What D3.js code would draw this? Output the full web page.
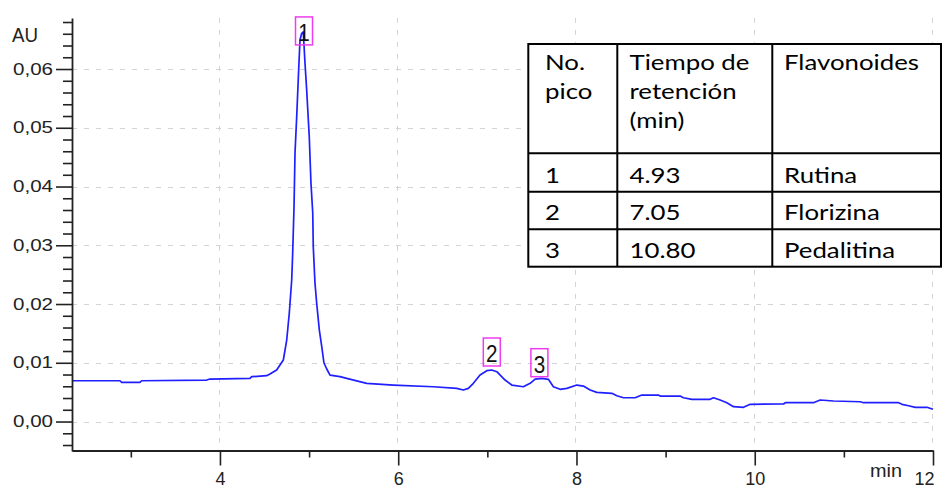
<!DOCTYPE html>
<html><head><meta charset="utf-8">
<script src="https://cdn.jsdelivr.net/npm/d3@7"></script>
<style>body{margin:0;background:#fff}svg{display:block}</style>
</head><body>
<svg id="chart" width="942" height="489"></svg>
<script>
// ---- data ----
const times = [2.339,2.878,2.897,3.102,3.121,3.851,3.888,4.337,4.356,4.524,4.561,4.636,4.711,4.749,4.778,4.805,4.816,4.831,4.842,4.861,4.883,4.898,4.917,4.935,4.954,4.973,5.002,5.021,5.041,5.047,5.066,5.085,5.115,5.142,5.167,5.198,5.235,5.347,5.422,5.647,5.945,6.394,6.657,6.731,6.787,6.843,6.918,6.994,7.050,7.106,7.199,7.274,7.404,7.480,7.536,7.611,7.685,7.741,7.816,7.892,8.004,8.078,8.153,8.228,8.397,8.453,8.527,8.658,8.733,8.920,8.939,9.163,9.200,9.295,9.500,9.537,9.612,9.687,9.762,9.874,9.949,10.323,10.342,10.659,10.734,10.884,11.184,11.221,11.614,11.652,11.726,11.801,11.932,12.0];
const absorbance = [0.00694,0.00694,0.00667,0.00667,0.00694,0.00706,0.00723,0.00735,0.00763,0.00780,0.00809,0.00877,0.01047,0.01387,0.01847,0.02409,0.02868,0.03656,0.04570,0.05188,0.05983,0.06494,0.06608,0.0663,0.06102,0.05643,0.04848,0.04060,0.03549,0.02975,0.02357,0.02017,0.01557,0.01273,0.00996,0.00894,0.00791,0.00763,0.00735,0.00650,0.00621,0.00592,0.00565,0.00536,0.00565,0.00650,0.00791,0.00865,0.00877,0.00848,0.00706,0.00621,0.00592,0.00650,0.00723,0.00735,0.00718,0.00592,0.00548,0.00565,0.00621,0.00604,0.00536,0.00497,0.00480,0.00439,0.00405,0.00405,0.00451,0.00451,0.00434,0.00434,0.00405,0.00378,0.00378,0.00405,0.00366,0.00320,0.00252,0.00242,0.00293,0.00298,0.00320,0.00320,0.00366,0.00349,0.00337,0.00320,0.00320,0.00293,0.00269,0.00242,0.00242,0.00208];

const xTickValues = [4, 6, 8, 10, 12];
const xTickLabels = ["4", "6", "8", "10", "12"];
const xMinorTicks = [3, 5, 7, 9, 11];
const yTickValues = [0, 0.01, 0.02, 0.03, 0.04, 0.05, 0.06];
const yTickLabels = ["0,00", "0,01", "0,02", "0,03", "0,04", "0,05", "0,06"];
const yAxisTitle = "AU";
const xAxisTitle = "min";

const peakNumbers = ["1", "2", "3"];
const peakLabelTimes = [4.943, 7.05, 7.584];
const peakLabelValues = [0.0641, 0.00945, 0.00763];

const tableHeader = [["No.", "pico"], ["Tiempo de", "retención", "(min)"], ["Flavonoides"]];
const tableRows = [["1", "4.93", "Rutina"], ["2", "7.05", "Florizina"], ["3", "10.80", "Pedalitina"]];

// ---- layout ----
const svg = d3.select("#chart");
const axisFont = "'Liberation Sans', Arial, sans-serif";
const x = d3.scaleLinear().domain([2.34, 12]).range([72, 933]);
const y = d3.scaleLinear().domain([-0.005, 0.0687]).range([450.9, 17.9]);
const axisY = 450.5;

// gridlines
const grid = svg.append("g").attr("stroke", "#d4d4d4").attr("stroke-width", 1).attr("stroke-dasharray", "5,7");
grid.selectAll("line.h").data(yTickValues).join("line").attr("class", "h")
  .attr("x1", x.range()[0]).attr("x2", x.range()[1])
  .attr("y1", d => Math.round(y(d)) + 0.5).attr("y2", d => Math.round(y(d)) + 0.5);
grid.selectAll("line.v").data(xTickValues).join("line").attr("class", "v")
  .attr("y1", y.range()[1]).attr("y2", axisY)
  .attr("x1", d => Math.round(x(d)) - 0.5).attr("x2", d => Math.round(x(d)) - 0.5);

// chromatogram
const pts = times.map((t, i) => [t, absorbance[i]]);
svg.append("path").datum(pts)
  .attr("fill", "none").attr("stroke", "#1f1fff").attr("stroke-width", 1.7)
  .attr("stroke-linejoin", "round")
  .attr("d", d3.line().x(d => x(d[0])).y(d => y(d[1])));

// peak labels
const pk = svg.append("g");
peakNumbers.forEach((n, i) => {
  const cx = x(peakLabelTimes[i]);
  const by = y(peakLabelValues[i]);
  pk.append("rect").attr("x", cx - 8.5).attr("y", by - 28).attr("width", 17).attr("height", 28)
    .attr("fill", "none").attr("stroke", "#f03cf0").attr("stroke-width", 1.5);
  pk.append("text").attr("x", cx).attr("y", by - 4).attr("text-anchor", "middle")
    .attr("font-family", axisFont).attr("font-size", 23).attr("fill", "#111")
    .attr("textLength", 11.5).attr("lengthAdjust", "spacingAndGlyphs").text(n);
});

// x axis
const gx = svg.append("g").attr("transform", `translate(0,${axisY})`);
gx.call(d3.axisBottom(x).tickValues(xTickValues).tickSize(15).tickSizeOuter(0).tickPadding(7)
  .tickFormat((d, i) => xTickLabels[i]));
const gxm = svg.append("g").attr("transform", `translate(0,${axisY})`);
gxm.call(d3.axisBottom(x).tickValues(xMinorTicks).tickSize(7).tickFormat(""));
gxm.select(".domain").remove();

// y axis
const gy = svg.append("g").attr("transform", `translate(72,0)`);
gy.call(d3.axisLeft(y).tickValues(yTickValues).tickSize(16).tickSizeOuter(0).tickPadding(3)
  .tickFormat((d, i) => yTickLabels[i]));
const yMinor = d3.range(-0.004, 0.0685, 0.002).filter(v => yTickValues.every(m => Math.abs(m - v) > 1e-6));
const gym = svg.append("g").attr("transform", `translate(72,0)`);
gym.call(d3.axisLeft(y).tickValues(yMinor).tickSize(9).tickFormat(""));
gym.select(".domain").remove();

svg.selectAll(".domain").attr("stroke", "#222").attr("stroke-width", 1.8);
svg.selectAll(".tick line").attr("stroke", "#222").attr("stroke-width", 1.6);
gx.selectAll("text").attr("font-family", axisFont).attr("font-size", 18).attr("fill", "#222");
gx.selectAll(".tick:last-of-type text").attr("text-anchor", "end").attr("dx", "1");
gy.selectAll("text").attr("font-family", axisFont).attr("font-size", 16).attr("fill", "#222")
  .attr("textLength", 40).attr("lengthAdjust", "spacingAndGlyphs");

svg.append("text").attr("x", 12).attr("y", 41.5).attr("font-family", axisFont).attr("font-size", 20)
  .attr("fill", "#222").attr("textLength", 26).attr("lengthAdjust", "spacingAndGlyphs").text(yAxisTitle);
svg.append("text").attr("x", 870).attr("y", 477).attr("font-family", axisFont).attr("font-size", 18)
  .attr("fill", "#222").attr("textLength", 32).attr("lengthAdjust", "spacingAndGlyphs").text(xAxisTitle);

// ---- table ----
const tb = svg.append("g");
const colX = [528.3, 617.3, 772.3, 941];
const rowY = [44, 153.3, 191.7, 229.3, 266.7];
const tableFont = "Lato, 'Open Sans', sans-serif";
tb.append("rect").attr("x", colX[0]).attr("y", rowY[0]).attr("width", colX[3] - colX[0]).attr("height", rowY[4] - rowY[0])
  .attr("fill", "#fff").attr("stroke", "#000").attr("stroke-width", 2);
[1, 2].forEach(c => tb.append("line").attr("x1", colX[c]).attr("x2", colX[c]).attr("y1", rowY[0]).attr("y2", rowY[4])
  .attr("stroke", "#000").attr("stroke-width", 2));
[1, 2, 3].forEach(r => tb.append("line").attr("x1", colX[0]).attr("x2", colX[3]).attr("y1", rowY[r]).attr("y2", rowY[r])
  .attr("stroke", "#000").attr("stroke-width", 2));
const textX = [545, 629.5, 784];
const headBase = [70, 99, 128];
const allText = [];
tableHeader.forEach((lines, c) => lines.forEach((s, k) => allText.push({ s, x: textX[c], y: headBase[k] })));
tableRows.forEach((row, r) => row.forEach((s, c) => allText.push({ s, x: textX[c], y: rowY[r + 2] - 9 })));
const tt = tb.selectAll("text.cell").data(allText).join("text").attr("class", "cell")
  .attr("x", d => d.x).attr("y", d => d.y).attr("font-family", tableFont).attr("font-size", 21)
  .attr("fill", "#000").text(d => d.s);
// uniform horizontal stretch of the table text (the pasted table is wider than natural)
const ref = tt.filter(d => d.s === "Flavonoides").node().getComputedTextLength();
const stretch = 135 / ref;
tt.each(function () {
  const w = this.getComputedTextLength();
  d3.select(this).attr("textLength", w * stretch).attr("lengthAdjust", "spacingAndGlyphs");
});
</script>
</body></html>
